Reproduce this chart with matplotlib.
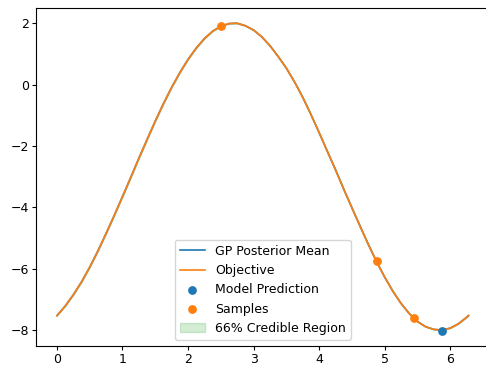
import matplotlib
matplotlib.use("Agg")
import matplotlib.pyplot as plt
import numpy as np

plt.rcParams['font.size'] = 9

# objective / GP posterior mean, every 0.125
x_grid = [0.0, 0.125, 0.25, 0.375, 0.5, 0.625, 0.75, 0.875, 1.0, 1.125,
          1.25, 1.375, 1.5, 1.625, 1.75, 1.875, 2.0, 2.125, 2.25, 2.375,
          2.5, 2.625, 2.75, 2.875, 3.0, 3.125, 3.25, 3.375, 3.5, 3.625,
          3.75, 3.875, 4.0, 4.125, 4.25, 4.375, 4.5, 4.625, 4.75, 4.875,
          5.0, 5.125, 5.25, 5.375, 5.5, 5.625, 5.75, 5.875, 6.0, 6.125,
          6.25, 6.28]
objective = [-7.53, -7.22, -6.85, -6.43, -5.95, -5.42, -4.85, -4.26, -3.65, -3.03,
             -2.40, -1.79, -1.19, -0.62, -0.09, 0.39, 0.82, 1.19, 1.50, 1.74,
             1.90, 1.99, 2.00, 1.92, 1.78, 1.56, 1.27, 0.92, 0.54, 0.09,
             -0.41, -0.97, -1.56, -2.17, -2.77, -3.40, -4.01, -4.61, -5.20, -5.76,
             -6.27, -6.73, -7.13, -7.46, -7.72, -7.89, -7.98, -8.00, -7.94, -7.80,
             -7.59, -7.53]
gp_mean = objective
gp_lower = objective
gp_upper = objective

sample_x = [2.50, 4.88, 5.45]
sample_y = [1.90, -5.76, -7.60]

pred_x = [5.87]
pred_y = [-8.02]

fig = plt.figure(figsize=(4.86, 3.66), dpi=100)
ax = fig.add_axes([36.4 / 486, 20.0 / 366, 452.6 / 486, 338.1 / 366])

ax.plot(x_grid, gp_mean, color='C0', lw=1.2, label='GP Posterior Mean')
ax.plot(x_grid, objective, color='C1', lw=1.2, label='Objective')
ax.scatter(pred_x, pred_y, color='C0', s=28, zorder=3, label='Model Prediction')
ax.scatter(sample_x, sample_y, color='C1', s=28, zorder=3, label='Samples')
ax.fill_between(x_grid, gp_lower, gp_upper, color='C2', alpha=0.2,
                label='66% Credible Region')

ax.tick_params(length=3, pad=2)
ax.legend(loc='lower center')

plt.savefig('out.png', dpi=100)
plt.close()
